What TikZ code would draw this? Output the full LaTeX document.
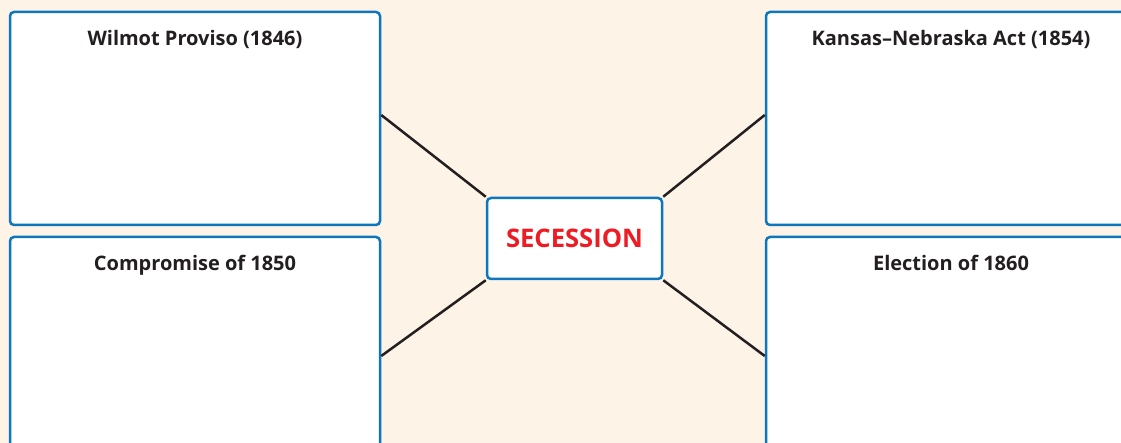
\documentclass[tikz,border=0pt]{standalone}
\usepackage{fontspec}
\setmainfont{Open Sans}
\definecolor{bgcream}{HTML}{FDF3E7}
\definecolor{boxblue}{HTML}{0E76BC}
\definecolor{secred}{HTML}{ED1C24}
\definecolor{inkdark}{HTML}{231F20}
\tikzset{
  panel/.style={draw=boxblue, fill=white, line width=2.5pt, rounded corners=4pt,
    minimum width=370pt, inner sep=0pt},
  hub/.style={draw=boxblue, fill=white, line width=2.5pt, rounded corners=4pt,
    minimum width=175pt, minimum height=81pt, inner sep=0pt,
    font=\fontsize{25.6}{30}\selectfont\bfseries, text=secred},
  title/.style={font=\fontsize{20}{24}\selectfont\bfseries, text=inkdark, anchor=base},
  link/.style={draw=inkdark, line width=2.5pt}
}
\begin{document}
\begin{tikzpicture}[x=1pt,y=-1pt]
\useasboundingbox (0,0) rectangle (1121,443);
\clip (0,0) rectangle (1121,443);
\fill[bgcream] (0,0) rectangle (1121,443);
\node[panel, minimum height=213pt] (tl) at (195,118.5) {};
\node[panel, minimum height=238pt] (bl) at (195,356) {};
\node[panel, minimum height=213pt] (tr) at (951,118.5) {};
\node[panel, minimum height=238pt] (br) at (951,356) {};
\node[hub] (c) at (574.5,238.5) {SECESSION};
\node[title] (tlt) at (195,46) {Wilmot Proviso (1846)};
\node[title] (blt) at (195,271) {Compromise of 1850};
\node[title] (trt) at (951,46) {Kansas–Nebraska Act (1854)};
\node[title] (brt) at (951,271) {Election of 1860};
\draw[link] ([yshift=3.5pt]tl.east) -- (c.north west);
\draw[link] (bl.east) -- (c.south west);
\draw[link] ([yshift=3.5pt]tr.west) -- (c.north east);
\draw[link] (br.west) -- (c.south east);
\end{tikzpicture}
\end{document}
